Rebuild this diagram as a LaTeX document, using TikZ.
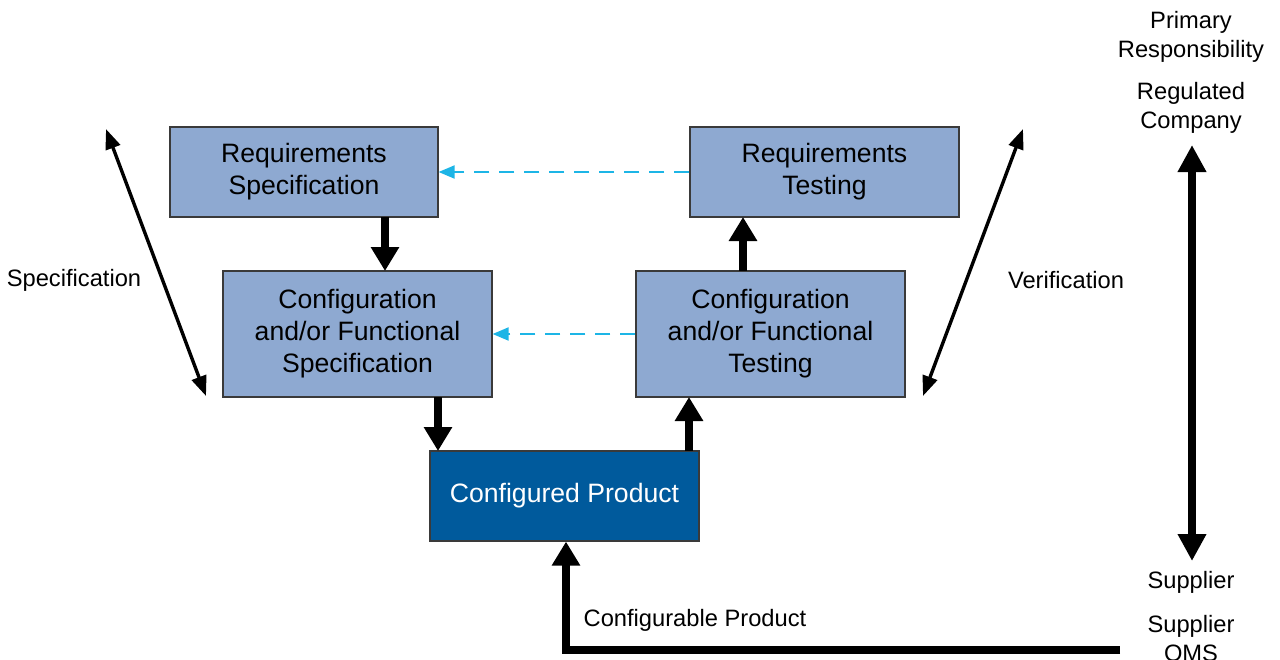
\documentclass[tikz,border=0pt]{standalone}
\usepackage{fontspec}
\setmainfont{Liberation Sans}
\usetikzlibrary{arrows.meta}
\definecolor{boxblue}{HTML}{8EA9D1}
\definecolor{darkblue}{HTML}{005A9C}
\definecolor{dashcyan}{HTML}{1DB5E6}
\definecolor{edge}{HTML}{3A3A3A}
\begin{document}
\begin{tikzpicture}[x=1pt,y=-1pt,
  box/.style={draw=edge,line width=1.2pt,fill=boxblue,align=center,inner sep=0pt,
    font=\fontsize{26.6}{32}\selectfont},
  prod/.style={box,fill=darkblue,text=white},
  lab/.style={align=center,font=\fontsize{23.7}{29}\selectfont,inner sep=0pt},
  thick arrow/.style={line width=8pt,-{Triangle[width=27pt,length=24pt]}},
  thick both/.style={line width=8pt,{Triangle[width=27pt,length=27pt]}-{Triangle[width=27pt,length=27pt]}},
  thin both/.style={line width=3.4pt,{Triangle[width=15pt,length=20pt]}-{Triangle[width=15pt,length=20pt]}},
  dasharrow/.style={dashcyan,line width=2pt,dash pattern=on 15pt off 10pt,-{Triangle[width=13pt,length=16pt]}}
]
\useasboundingbox (0,0) rectangle (1280,659);
\node[box,minimum width=268pt,minimum height=90pt] (rs) at (304,172) {Requirements\\Specification};
\node[box,minimum width=269pt,minimum height=90pt] (rt) at (824.5,172) {Requirements\\Testing};
\node[box,minimum width=269pt,minimum height=126pt] (cs) at (357.5,334) {Configuration\\and/or Functional\\Specification};
\node[box,minimum width=269pt,minimum height=126pt] (ct) at (770.5,334) {Configuration\\and/or Functional\\Testing};
\node[prod,minimum width=269pt,minimum height=90pt] (cp) at (564.5,496) {Configured Product};

\draw[thick arrow] (385,217) -- (385,271);
\draw[thick arrow] (743,271) -- (743,217);
\draw[thick arrow] (438,397) -- (438,451);
\draw[thick arrow] (689,451) -- (689,397);

\draw[dasharrow] (rt.west) -- (rs.east);
\draw[dasharrow] (ct.west) -- (cs.east);

\coordinate (sl1) at (106,129);
\coordinate (sl2) at (206,396);
\draw[thin both] (sl1) -- (sl2);
\coordinate (vr1) at (1023,129);
\coordinate (vr2) at (923,396);
\draw[thin both] (vr1) -- (vr2);

\node[lab] (spec) at (74,280) {Specification};
\node[lab] (verif) at (1066,280) {Verification};

\node[lab] (prim) at (1191,37) {Primary\\Responsibility};
\node[lab] (reg) at (1191,108) {Regulated\\Company};
\coordinate (rtop) at (1192,145);
\coordinate (rbot) at (1192,561);
\draw[thick both] (rtop) -- (rbot);
\node[lab] (sup) at (1191,582) {Supplier};
\node[lab] (qms) at (1191,641) {Supplier\\QMS};

\coordinate (qin) at (1120,650);
\coordinate (corner) at (566,650);
\draw[line width=8pt,-{Triangle[width=27pt,length=24pt]}] (qin) -- (corner) -- (cp.south -| corner);
\node[lab] (cfg) at (695,620) {Configurable Product};
\end{tikzpicture}
\end{document}
